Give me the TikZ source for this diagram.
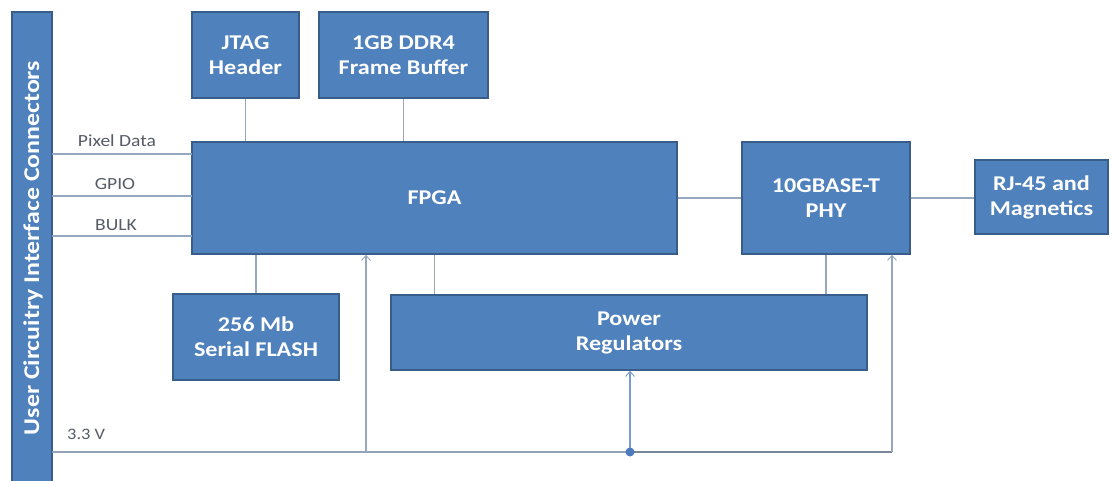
\documentclass[tikz,border=0pt]{standalone}
\usepackage{fontspec}
\setmainfont{Carlito}[FakeStretch=1.15]
\usetikzlibrary{arrows.meta}
\definecolor{boxfill}{RGB}{79,129,189}
\definecolor{boxedge}{RGB}{56,93,138}
\definecolor{wire}{RGB}{150,168,192}
\definecolor{rail}{RGB}{120,134,152}
\definecolor{labelgray}{RGB}{85,92,102}
\definecolor{dotblue}{RGB}{76,122,190}
\tikzset{
  block/.style={draw=boxedge, fill=boxfill, line width=1.6pt, text=white,
    align=center, inner sep=0pt, font=\bfseries\fontsize{21}{25}\selectfont},
  wireline/.style={draw=wire, line width=1.1pt},
  feed/.style={draw=wire, line width=1.1pt,
    -{Straight Barb[length=5pt,width=9pt,line width=0.9pt]}},
  sig/.style={text=labelgray, font=\fontsize{17}{20}\selectfont, inner sep=0pt},
}
\begin{document}
\begin{tikzpicture}[x=1pt, y=-1pt]
\useasboundingbox (0,0) rectangle (1113,481);
\fill[white] (0,0) rectangle (1113,481);

% connector bar on the left
\node[block, minimum width=40, minimum height=480] (bar) at (32,252) {};
\node[text=white, font=\bfseries\fontsize{22.5}{26}\selectfont, rotate=90]
  (bartext) at (33,248) {User Circuitry Interface Connectors};

% blocks
\node[block, minimum width=107, minimum height=86] (jtag) at (245.5,55) {JTAG\\Header};
\node[block, minimum width=169, minimum height=86] (ddr) at (403.5,55) {1GB DDR4\\Frame Buffer};
\node[block, minimum width=485, minimum height=112] (fpga) at (434.5,198) {FPGA};
\node[block, minimum width=168, minimum height=112] (phy) at (826,198) {10GBASE-T\\PHY};
\node[block, minimum width=133, minimum height=74] (rj) at (1041.5,197) {RJ-45 and\\Magnetics};
\node[block, minimum width=166, minimum height=86] (flash) at (256,337) {256 Mb\\Serial FLASH};
\node[block, minimum width=476, minimum height=75] (power) at (629,332.5) {Power\\Regulators};

% signal buses between connector and FPGA
\coordinate (pixA) at (52,154);  \coordinate (pixB) at (192,154);
\coordinate (gpA)  at (52,196);  \coordinate (gpB)  at (192,196);
\coordinate (buA)  at (52,236);  \coordinate (buB)  at (192,236);
\draw[wireline] (pixA) -- (pixB);
\draw[wireline] (gpA) -- (gpB);
\draw[wireline] (buA) -- (buB);
\node[sig] (lpix) at (117,141) {Pixel Data};
\node[sig] (lgpio) at (115,184) {GPIO};
\node[sig] (lbulk) at (116,225) {BULK};

% links between blocks
\draw[wireline] (jtag.south) -- (jtag.south |- fpga.north);
\draw[wireline] (ddr.south) -- (ddr.south |- fpga.north);
\draw[wireline] (flash.north) -- (flash.north |- fpga.south);
\draw[wireline] (fpga.south) -- (fpga.south |- power.north);
\draw[wireline] (phy.south) -- (phy.south |- power.north);
\draw[wireline] (fpga.east) -- (phy.west);
\draw[wireline] (phy.east) -- (phy.east -| rj.west);

% 3.3 V supply rail
\coordinate (railL) at (52,452);
\coordinate (tapF) at (366,452);
\coordinate (tapP) at (630,452);
\coordinate (railR) at (892,452);
\node[sig, anchor=west, font=\fontsize{16}{19}\selectfont] (l33) at (67,434) {3.3 V};
\draw[wire!85!gray, line width=1.3pt] (railL) -- (tapP);
\draw[rail, line width=1.8pt] (tapP) -- (railR);
\draw[feed] (tapF) -- (tapF |- fpga.south);
\draw[feed] (railR) -- (railR |- phy.south);
\draw[feed, draw=dotblue!75] (tapP) -- (tapP |- power.south);
\fill[dotblue] (tapP) circle (4.5);
\end{tikzpicture}
\end{document}
